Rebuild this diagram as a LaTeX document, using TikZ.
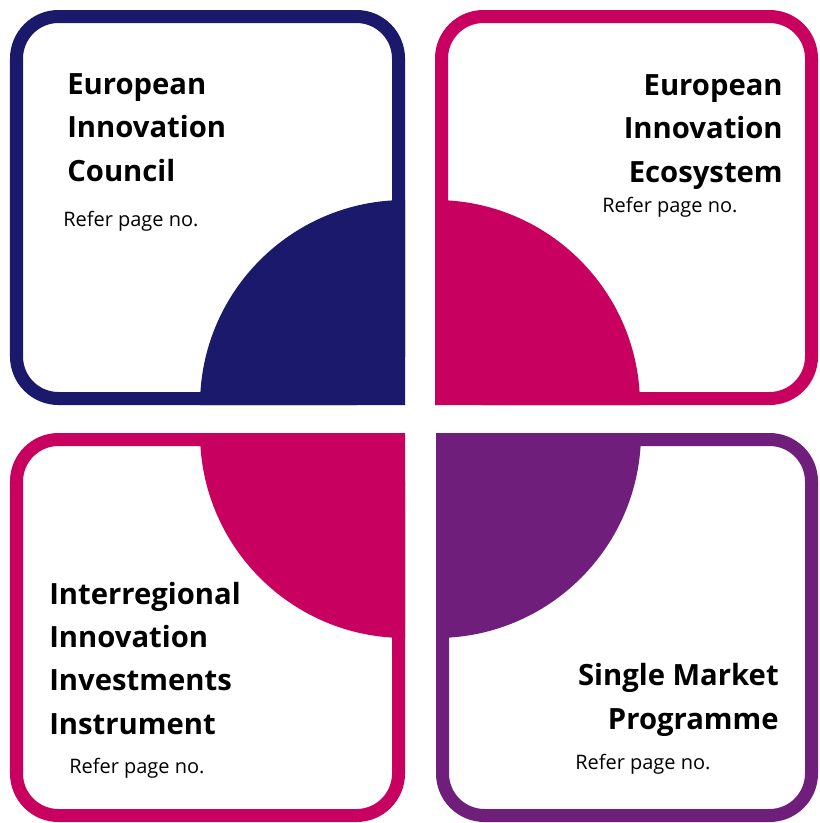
\documentclass[tikz,border=0pt]{standalone}
\usepackage{fontspec}
\setmainfont{Open Sans}
\usetikzlibrary{positioning}
\definecolor{eicnavy}{RGB}{26,25,107}
\definecolor{eiemagenta}{RGB}{200,0,95}
\definecolor{smppurple}{RGB}{111,31,123}

\begin{document}
\begin{tikzpicture}[x=0.025cm, y=-0.025cm,
    frame/.style={line width=0.325cm, fill=white, rounded corners=1.05cm},
    title/.style={font=\bfseries\fontsize{20.8}{30.6}\selectfont, inner sep=0pt},
    refer/.style={font=\fontsize{14.2}{17}\selectfont, inner sep=0pt}]
    \useasboundingbox (0,0) rectangle (820,823);

    % Four rounded frames
    \draw[frame, draw=eicnavy] (16.5,16.5) rectangle (398.5,398.5);
    \draw[frame, draw=eiemagenta] (441.5,16.5) rectangle (811.5,398.5);
    \draw[frame, draw=eiemagenta] (16.5,439.5) rectangle (398.5,815.5);
    \draw[frame, draw=smppurple] (442.5,439.5) rectangle (811.5,815.5);

    % Quarter discs towards the centre
    \fill[eicnavy] (405,405) -- (200,405) arc[start angle=180, end angle=270, radius=205] -- cycle;
    \fill[eiemagenta] (435,405) -- (435,200) arc[start angle=270, end angle=360, radius=205] -- cycle;
    \fill[eiemagenta] (405,433) -- (200,433) arc[start angle=180, end angle=90, radius=205] -- cycle;
    \fill[smppurple] (436,433) -- (641,433) arc[start angle=0, end angle=90, radius=205] -- cycle;

    % Titles (anchored on the last line)
    \node[title, align=left, anchor=base west] (eic) at (67,181) {European\\Innovation\\Council};
    \node[title, align=right, anchor=base east] (eie) at (783,182) {European\\Innovation\\Ecosystem};
    \node[title, align=left, anchor=base west] (iii) at (49,734) {Interregional\\Innovation\\Investments\\Instrument};
    \node[title, align=right, anchor=base east] (smp) at (779,729) {Single Market\\Programme};

    % Page references
    \node[refer, anchor=base west] (eicref) at (63,226) {Refer page no.};
    \node[refer, anchor=base west] (eieref) at (602,212) {Refer page no.};
    \node[refer, anchor=base west] (iiiref) at (69,773) {Refer page no.};
    \node[refer, anchor=base west] (smpref) at (575,769) {Refer page no.};
\end{tikzpicture}
\end{document}
